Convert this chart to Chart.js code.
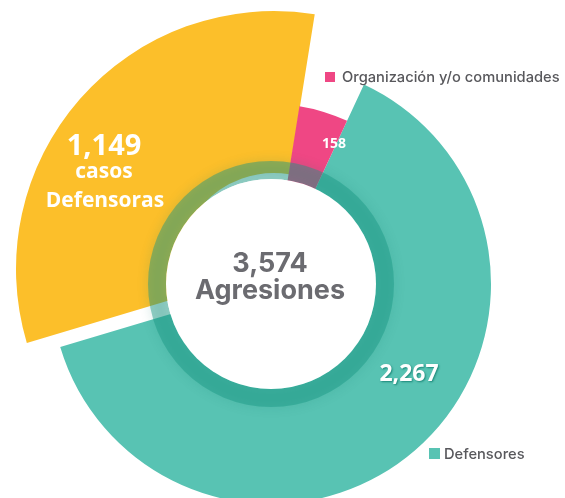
<!DOCTYPE html>
<html>
<head>
<meta charset="utf-8">
<script src="https://cdn.jsdelivr.net/npm/chart.js@4.4.0/dist/chart.umd.min.js"></script>
<style>
  html, body { margin: 0; padding: 0; background: #fff; }
  #wrap { width: 565px; height: 498px; position: relative; }
</style>
</head>
<body>
<div id="wrap"><canvas id="grafica"></canvas></div>
<script>
// datos
const categorias = ['Defensores', 'Defensoras', 'Organización y/o comunidades'];
const casos = [2267, 1149, 158];
const colores = ['#58c3b3', '#fcbf2a', '#ef4784'];
const etiquetas = ['2,267', '1,149', '158'];
const totalTexto = '3,574';
const totalNombre = 'Agresiones';

// radio exterior de cada rebanada (px) y desplazamiento de la rebanada amarilla
const radios = [220, 258, 180];
const desplazamiento = [[0, 0], [3, -15], [0, 0]];

const anillo = {
    id: 'anillo',
    beforeDatasetsDraw(chart) {
        let meta = chart.getDatasetMeta(0);
        let cx = meta.data[0].x, cy = meta.data[0].y;
        meta.data.forEach(function (arc, i) {
            arc.outerRadius = radios[i];
            arc.innerRadius = 96;
            arc.x = cx + desplazamiento[i][0];
            arc.y = cy + desplazamiento[i][1];
        });
    },
    afterDatasetsDraw(chart) {
        const ctx = chart.ctx;
        const arc = chart.getDatasetMeta(0).data[0];
        const cx = arc.x, cy = arc.y;

        // anillo interior translucido
        ctx.save();
        ctx.beginPath();
        ctx.arc(cx, cy, 123, 0, Math.PI * 2);
        ctx.arc(cx, cy, 105, 0, Math.PI * 2, true);
        ctx.fillStyle = 'rgba(25, 150, 130, 0.45)';
        ctx.shadowColor = 'rgba(20, 120, 105, 0.35)';
        ctx.shadowBlur = 12;
        ctx.fill();
        ctx.restore();

        // centro blanco
        ctx.beginPath();
        ctx.arc(cx, cy, 105, 0, Math.PI * 2);
        ctx.fillStyle = '#ffffff';
        ctx.fill();

        // texto central
        ctx.save();
        ctx.textAlign = 'center';
        ctx.textBaseline = 'alphabetic';
        ctx.fillStyle = '#6b6b70';
        ctx.font = 'bold 27px Inter';
        ctx.fillText(totalTexto, 270, 272);
        ctx.fillText(totalNombre, 270, 299);

        // etiquetas en las rebanadas
        ctx.fillStyle = '#ffffff';
        ctx.font = 'bold 29px "Open Sans"';
        ctx.fillText(etiquetas[1], 104, 155);
        ctx.font = 'bold 21px "Open Sans"';
        ctx.fillText('casos', 104, 178);
        ctx.fillText(categorias[1], 105, 207);

        ctx.font = 'bold 14px "Open Sans"';
        ctx.fillText(etiquetas[2], 334, 148);

        ctx.shadowColor = 'rgba(0, 110, 95, 0.7)';
        ctx.shadowBlur = 2;
        ctx.shadowOffsetX = 1;
        ctx.shadowOffsetY = 1;
        ctx.font = 'bold 23px "Open Sans"';
        ctx.fillText(etiquetas[0], 409, 381);
        ctx.restore();

        // leyenda
        ctx.save();
        ctx.fillStyle = colores[2];
        ctx.fillRect(325, 72, 10, 10);
        ctx.fillStyle = colores[0];
        ctx.fillRect(429, 448, 11, 11);
        ctx.fillStyle = '#58585c';
        ctx.font = '500 14.7px Inter';
        ctx.textAlign = 'left';
        ctx.fillText(categorias[2], 342, 82);
        ctx.fillText(categorias[0], 444, 459);
        ctx.restore();
    }
};

new Chart(document.getElementById('grafica'), {
    type: 'doughnut',
    data: {
        labels: categorias,
        datasets: [{
            data: casos,
            backgroundColor: colores,
            borderWidth: 0,
        }],
    },
    options: {
        responsive: true,
        maintainAspectRatio: false,
        animation: false,
        events: [],
        rotation: 25,
        layout: { padding: { left: 0, right: 23, top: 70, bottom: 0 } },
        plugins: {
            legend: { display: false },
            tooltip: { enabled: false },
        },
    },
    plugins: [anillo],
});
</script>
</body>
</html>
